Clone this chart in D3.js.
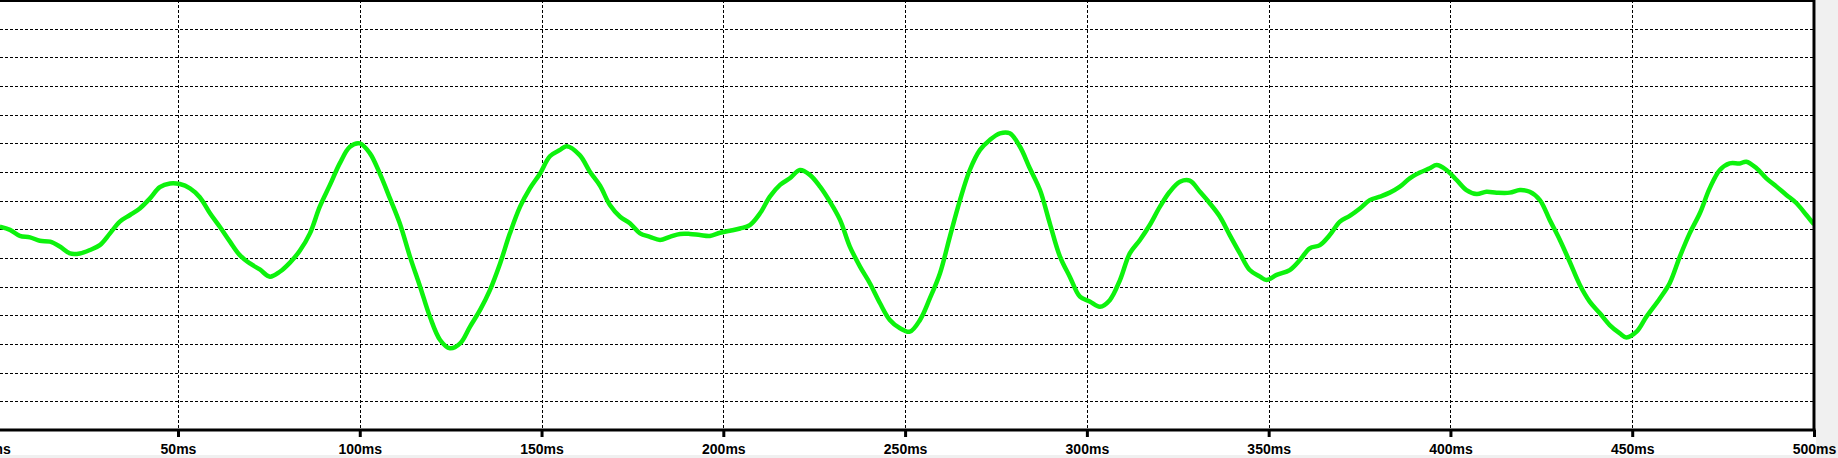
<!DOCTYPE html>
<html>
<head>
<meta charset="utf-8">
<script src="https://cdn.jsdelivr.net/npm/d3@7/dist/d3.min.js"></script>
<style>
html,body{margin:0;padding:0;background:#f0f0f0;overflow:hidden;}
svg{display:block;}
</style>
</head>
<body>
<svg id="chart" width="1838" height="458"></svg>
<script>
// time in ms
const times = [
1.0,3.8,6.5,9.3,12.0,14.8,17.5,20.3,23.0,25.8,28.5,31.3,34.0,36.8,39.5,42.3,45.0,47.8,50.5,53.3,56.0,58.8,61.5,64.3,67.0,69.8,72.5,75.3,78.0,80.8,
83.5,86.3,89.0,91.8,94.5,97.3,100.0,102.8,105.5,108.3,111.0,113.8,116.6,119.3,122.1,124.8,127.6,130.3,133.1,135.8,138.6,141.3,144.1,146.8,149.6,152.3,155.1,156.9,160.5,163.3,
166.1,168.8,171.6,174.3,177.1,179.8,182.6,185.3,188.1,190.8,193.6,196.3,199.1,201.8,204.6,207.3,210.1,212.8,215.6,218.3,221.1,223.8,226.6,229.3,232.1,234.8,237.6,240.3,243.1,245.8,
248.6,251.3,254.1,256.8,259.6,262.3,265.1,267.8,270.6,273.3,276.1,278.8,281.6,284.3,287.1,289.8,292.6,295.3,298.1,300.8,303.6,306.3,309.1,311.8,314.6,317.3,320.1,322.8,325.6,328.3,
331.1,333.8,336.6,339.3,342.1,344.8,347.6,349.4,352.2,355.8,358.6,361.3,364.1,366.8,369.6,372.3,375.1,377.8,380.6,383.3,386.1,388.8,391.6,394.3,396.2,398.9,401.7,404.4,407.2,409.9,412.7,
416.3,419.1,421.8,424.6,427.3,430.1,432.8,435.6,438.3,441.1,443.8,446.6,448.4,451.2,453.9,457.6,460.3,463.1,465.8,468.6,471.3,474.1,476.8,479.6,481.4,484.2,486.9,489.7,492.4,495.2,497.9,500.0
];
// signal level in grid divisions (0 = bottom, 15 = top)
const values = [
7.09,6.98,6.77,6.72,6.60,6.57,6.40,6.16,6.16,6.28,6.45,6.86,7.27,7.50,7.73,8.08,8.47,8.60,8.58,8.43,8.12,7.56,7.09,6.57,6.10,5.81,5.60,5.35,5.52,5.84,
6.25,6.86,7.79,8.55,9.30,9.88,10.00,9.65,8.95,8.08,7.21,6.05,5.00,3.95,3.14,2.85,3.02,3.60,4.19,4.88,5.81,6.86,7.79,8.43,8.95,9.55,9.77,9.90,9.59,9.01,
8.52,7.85,7.44,7.21,6.86,6.74,6.63,6.74,6.84,6.84,6.80,6.77,6.88,6.95,7.03,7.15,7.56,8.14,8.55,8.78,9.07,8.90,8.49,7.97,7.33,6.40,5.70,5.12,4.42,3.84,
3.55,3.43,3.84,4.59,5.47,6.74,8.02,9.07,9.77,10.12,10.35,10.35,9.88,9.13,8.37,7.21,6.05,5.35,4.65,4.48,4.30,4.53,5.23,6.16,6.63,7.15,7.79,8.31,8.66,8.70,
8.31,7.91,7.44,6.80,6.16,5.58,5.35,5.23,5.41,5.58,5.93,6.34,6.45,6.80,7.27,7.47,7.73,8.02,8.14,8.28,8.49,8.78,8.98,9.13,9.24,9.07,8.72,8.37,8.23,8.31,8.28,
8.28,8.37,8.31,8.02,7.33,6.63,5.87,5.06,4.48,4.07,3.66,3.37,3.23,3.43,3.95,4.59,5.12,6.05,6.86,7.56,8.43,9.07,9.30,9.30,9.36,9.13,8.78,8.49,8.20,7.91,7.50,7.17
];
const xTicks = [0,50,100,150,200,250,300,350,400,450,500];
const yGrid = [1,2,3,4,5,6,7,8,9,10,11,12,13,14];

const svg = d3.select("#chart");
const x = d3.scaleLinear().domain([0,500]).range([-3.8,1814]);
const y = d3.scaleLinear().domain([0,15]).range([430,0]);

svg.append("rect").attr("x",0).attr("y",0).attr("width",1816).attr("height",455).attr("fill","#ffffff");

const defs = svg.append("defs");
defs.append("clipPath").attr("id","plotclip").append("rect")
  .attr("x",0).attr("y",0).attr("width",1813).attr("height",429);

// grid
const grid = svg.append("g").attr("shape-rendering","crispEdges");
grid.selectAll("line.h").data(yGrid).join("line").attr("class","h")
  .attr("x1",0).attr("x2",1813)
  .attr("y1",d=>Math.round(y(d))+0.5).attr("y2",d=>Math.round(y(d))+0.5)
  .attr("stroke","#000").attr("stroke-width",1).attr("stroke-dasharray","3,2");
grid.selectAll("line.v").data(xTicks.filter(t=>t>0&&t<500)).join("line").attr("class","v")
  .attr("x1",d=>Math.round(x(d))+0.5).attr("x2",d=>Math.round(x(d))+0.5)
  .attr("y1",0).attr("y2",429)
  .attr("stroke","#000").attr("stroke-width",1).attr("stroke-dasharray","3,2");

// signal
const pts = times.map((t,i)=>[t,values[i]]);
const line = d3.line().x(d=>x(d[0])).y(d=>y(d[1])).curve(d3.curveCatmullRom.alpha(0.5));
svg.append("path").datum(pts).attr("clip-path","url(#plotclip)")
  .attr("d",line).attr("fill","none").attr("stroke","#0df20d")
  .attr("stroke-width",4.5).attr("stroke-linejoin","round");

// borders
svg.append("line").attr("x1",0).attr("x2",1815).attr("y1",1).attr("y2",1)
  .attr("stroke","#000").attr("stroke-width",2);
svg.append("line").attr("x1",1814).attr("x2",1814).attr("y1",0).attr("y2",431)
  .attr("stroke","#000").attr("stroke-width",3);

// x axis
const ax = svg.append("g").attr("transform","translate(0,430)")
  .call(d3.axisBottom(x).tickValues(xTicks).tickFormat(d=>d+"ms").tickSize(7).tickSizeOuter(0).tickPadding(7));
ax.select(".domain").attr("stroke","#000").attr("stroke-width",3).attr("d","M-4,0H1815.5");
ax.selectAll(".tick line").attr("stroke","#000").attr("stroke-width",3).attr("y1",0);
ax.selectAll(".tick text").attr("fill","#000")
  .style("font-family","'Liberation Sans', Arial, sans-serif")
  .style("font-weight","bold").style("font-size","14px");
</script>
</body>
</html>
